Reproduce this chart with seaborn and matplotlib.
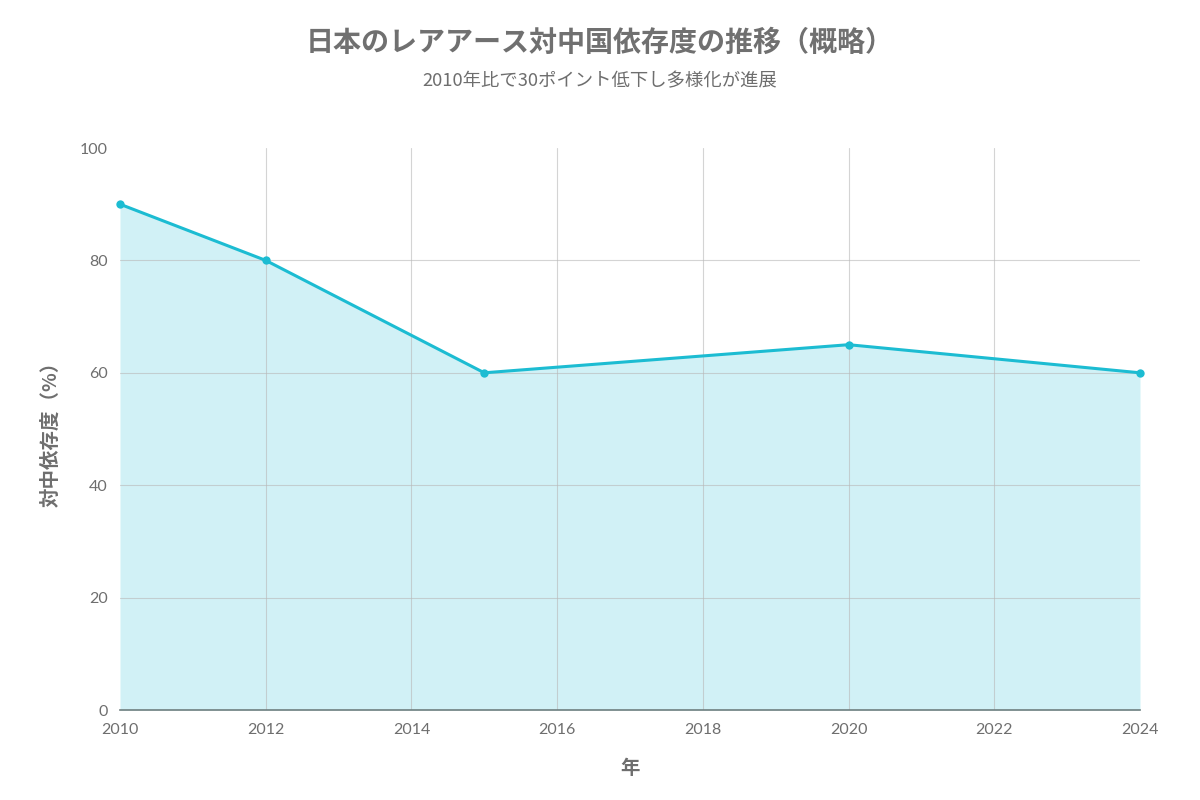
import matplotlib
matplotlib.use("Agg")
import matplotlib.pyplot as plt
import seaborn as sns
import pandas as pd

# Data
years = [2010, 2012, 2015, 2020, 2024]
dependence = [90, 80, 60, 65, 60]
x_ticks = [2010, 2012, 2014, 2016, 2018, 2020, 2022, 2024]
y_ticks = [0, 20, 40, 60, 80, 100]

title = "日本のレアアース対中国依存度の推移（概略）"
subtitle = "2010年比で30ポイント低下し多様化が進展"
x_label = "年"
y_label = "対中依存度（%）"

df = pd.DataFrame({"year": years, "dep": dependence})

sns.set_theme(style="white")
plt.rcParams["font.family"] = ["Noto Sans CJK JP", "DejaVu Sans"]

line_color = "#1cbcd2"
text_grey = "#6e6e6e"

fig = plt.figure(figsize=(12, 8), dpi=100)
ax = fig.add_axes([0.1, 0.1125, 0.85, 0.7025])

ax.fill_between(df["year"], df["dep"], 0, color=line_color, alpha=0.2, linewidth=0, zorder=1)
sns.lineplot(data=df, x="year", y="dep", ax=ax, color=line_color, linewidth=2.2,
             marker="o", markersize=6, markeredgewidth=0, zorder=5, clip_on=False)

ax.set_xlim(2010, 2024)
ax.set_ylim(0, 100)
ax.set_xticks(x_ticks)
ax.set_yticks(y_ticks)
ax.grid(True, color="#b8b8b8", linewidth=0.8, alpha=0.6, zorder=2)
ax.set_axisbelow(False)
# no grid lines on the plot edges
for gl in (ax.xaxis.get_gridlines()[0], ax.xaxis.get_gridlines()[-1],
           ax.yaxis.get_gridlines()[0], ax.yaxis.get_gridlines()[-1]):
    gl.set_visible(False)

for s in ["top", "right", "left"]:
    ax.spines[s].set_visible(False)
ax.spines["bottom"].set_color("#6f7f80")
ax.spines["bottom"].set_linewidth(1.2)
ax.spines["bottom"].set_zorder(4)

ax.tick_params(axis="both", length=5, width=1, color="#d0d0d0",
               labelcolor=text_grey, labelsize=11.5, pad=4)
for lab in ax.get_xticklabels() + ax.get_yticklabels():
    lab.set_family(["Lato", "DejaVu Sans"])

ax.set_xlabel(x_label, fontsize=14, color=text_grey, fontweight="bold", labelpad=16)
ax.set_ylabel(y_label, fontsize=14, color=text_grey, fontweight="bold", labelpad=14)

fig.text(0.5, 0.947, title, ha="center", va="center", fontsize=20.2,
         fontweight="bold", color="#707070")
fig.text(0.5, 0.898, subtitle, ha="center", va="center", fontsize=13.2, color=text_grey)

fig.savefig("out.png", dpi=100)
